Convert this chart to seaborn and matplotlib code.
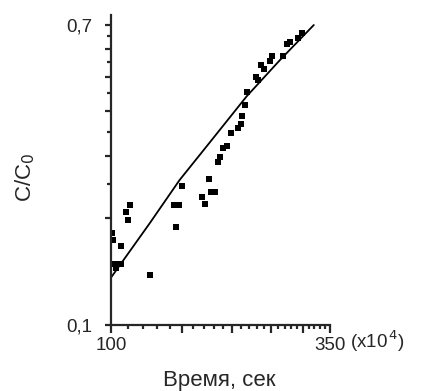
"""C/C0 vs time, log-log"""
import numpy as np
import pandas as pd
import matplotlib
matplotlib.use("Agg")
import matplotlib.pyplot as plt
from matplotlib.ticker import FixedLocator, FixedFormatter, NullFormatter
import seaborn as sns


# measured points (time in 10^4 s, relative concentration)
time_pts = [100.6, 101.1, 105.9, 101.7, 104.1, 105.9, 102.9, 109.0, 111.5, 110.2,
            125.0, 143.4, 147.6, 145.0, 150.1, 168.3, 171.2, 175.2, 177.2, 181.3,
            184.4, 186.5, 189.8, 194.2, 198.7, 206.8, 210.4, 211.6, 215.2, 218.3,
            229.2, 231.8, 235.2, 239.9, 248.3, 251.2, 267.5, 273.7, 279.2, 291.5,
            297.4]
conc_pts = [0.182, 0.174, 0.167, 0.149, 0.149, 0.149, 0.145, 0.208, 0.218, 0.198,
            0.138, 0.218, 0.218, 0.189, 0.246, 0.229, 0.219, 0.258, 0.237, 0.237,
            0.288, 0.297, 0.315, 0.319, 0.347, 0.359, 0.368, 0.388, 0.417, 0.453,
            0.500, 0.490, 0.540, 0.526, 0.554, 0.572, 0.572, 0.619, 0.627, 0.643,
            0.665]

# model curve
time_fit = [100, 125, 148, 176, 217, 263, 319]
conc_fit = [0.136, 0.194, 0.256, 0.327, 0.440, 0.558, 0.700]

x_major = [100, 150, 200, 250, 300, 350]
x_labels = ["100", "", "", "", "", "350"]
x_minor = [110, 120, 130, 140, 160, 170, 180, 190, 210, 220, 230, 240,
           260, 270, 280, 290, 310, 320, 330, 340]
y_major = [0.1, 0.2, 0.3, 0.4, 0.5, 0.6, 0.7]
y_labels = ["0,1", "", "", "", "", "", "0,7"]
y_minor = [0.25, 0.35, 0.45, 0.55, 0.65]

sns.set_style("ticks")
plt.rcParams["font.family"] = ["Liberation Sans", "DejaVu Sans"]

pts = pd.DataFrame({"t": time_pts, "c": conc_pts})
fit = pd.DataFrame({"t": time_fit, "c": conc_fit})

fig = plt.figure(figsize=(4.31, 3.91), dpi=100)
ax = fig.add_axes([111 / 431, 66 / 391, 219 / 431, 310 / 391])
ax.set_xscale("log")
ax.set_yscale("log")

sns.lineplot(data=fit, x="t", y="c", color="black", linewidth=1.3,
             sort=False, estimator=None, ax=ax)
sns.scatterplot(data=pts, x="t", y="c", marker="s", s=24, color="black",
                linewidth=0, ax=ax)

ax.set_xlim(100, 350)
ax.set_ylim(0.1, 0.747)

ax.xaxis.set_major_locator(FixedLocator(x_major))
ax.xaxis.set_major_formatter(FixedFormatter(x_labels))
ax.xaxis.set_minor_locator(FixedLocator(x_minor))
ax.xaxis.set_minor_formatter(NullFormatter())
ax.yaxis.set_major_locator(FixedLocator(y_major))
ax.yaxis.set_major_formatter(FixedFormatter(y_labels))
ax.yaxis.set_minor_locator(FixedLocator(y_minor))
ax.yaxis.set_minor_formatter(NullFormatter())

sns.despine(ax=ax)
for s in ["left", "bottom"]:
    ax.spines[s].set_linewidth(1.6)
ax.tick_params(axis="x", which="major", length=6, width=1.6, pad=3, labelsize=13.5)
ax.tick_params(axis="x", which="minor", length=3, width=1.6)
ax.tick_params(axis="y", which="major", length=4.5, width=1.6, pad=9, labelsize=13.5)
ax.tick_params(axis="y", which="minor", length=3, width=1.6)

ax.annotate("(x10$^{\\,4}$)", xy=(1, 0), xycoords="axes fraction",
            xytext=(14.5, -16.5), textcoords="offset points",
            ha="left", va="baseline", fontsize=13.5)

ax.set_xlabel("Время, сек", fontsize=16)
ax.xaxis.set_label_coords(0.493, -0.145)
ax.set_ylabel("C/C$_0$", fontsize=16)
ax.yaxis.set_label_coords(-0.34, 0.477)

fig.savefig("out.png", dpi=100)
